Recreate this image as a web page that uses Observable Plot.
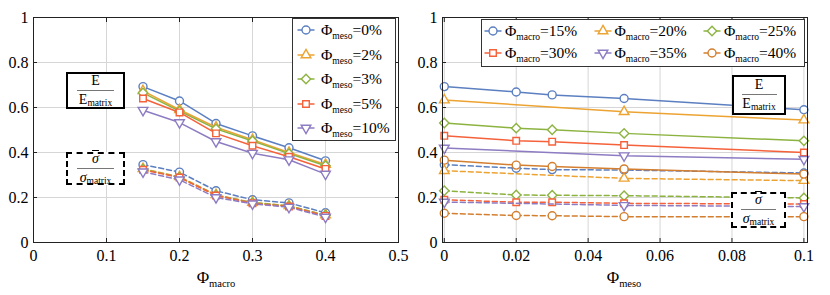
<!DOCTYPE html>
<html>
<head>
<meta charset="utf-8">
<script src="https://cdn.jsdelivr.net/npm/d3@7"></script>
<script src="https://cdn.jsdelivr.net/npm/@observablehq/plot@0.6"></script>
<style>
  html, body { margin: 0; padding: 0; background: #fff; }
  #wrap { position: relative; width: 830px; height: 295px; overflow: hidden; background: #fff;
          font-family: 'Liberation Serif', serif; color: #000; }
  #wrap svg.plot { position: absolute; top: 0; }
  .legend { position: absolute; background: #fff; border: 1px solid #333; box-sizing: border-box; }
  .lrow { position: absolute; height: 20px; display: flex; align-items: center; white-space: nowrap; font-size: 15.5px; font-family: 'Liberation Serif', serif; }
  .sub { font-size: 9.5px; position: relative; top: 4px; }
  .ann { position: absolute; background: #fff; box-sizing: border-box; display: flex; flex-direction: column;
         align-items: center; justify-content: center; font-size: 14px; line-height: 12px; font-family: 'Liberation Serif', serif; }
  .ann .bar { height: 0; border-top: 1px solid #777; margin: 3px 0 3px 0; }
  .ann .sub { top: 2px; font-size: 9.5px; }
  .axlab { position: absolute; font-size: 17px; white-space: nowrap; transform: translateX(-50%); font-family: 'Liberation Serif', serif; }
  .axlab .sub { font-size: 10.5px; top: 4px; }
</style>
</head>
<body>
<div id="wrap"></div>
<script>
// ---------------- DATA ----------------
const colors = ["#5b7fc0", "#eda332", "#8cb340", "#f5613a", "#8e7cc3", "#d47f2f"];

// Left panel: x = Phi_macro, series = Phi_meso
const leftX = [0.15, 0.2, 0.25, 0.3, 0.35, 0.4];
const mesoLabels = ["0%", "2%", "3%", "5%", "10%"];
const E_meso0  = [0.693, 0.629, 0.529, 0.474, 0.421, 0.363];
const E_meso2  = [0.674, 0.590, 0.512, 0.457, 0.400, 0.347];
const E_meso3  = [0.665, 0.584, 0.505, 0.451, 0.395, 0.341];
const E_meso5  = [0.640, 0.578, 0.485, 0.430, 0.381, 0.327];
const E_meso10 = [0.588, 0.533, 0.449, 0.397, 0.368, 0.304];
const S_meso0  = [0.346, 0.313, 0.230, 0.190, 0.176, 0.132];
const S_meso2  = [0.328, 0.292, 0.212, 0.178, 0.163, 0.122];
const S_meso3  = [0.326, 0.290, 0.210, 0.177, 0.162, 0.121];
const S_meso5  = [0.323, 0.289, 0.209, 0.174, 0.160, 0.118];
const S_meso10 = [0.314, 0.279, 0.200, 0.172, 0.157, 0.113];

// Right panel: x = Phi_meso, series = Phi_macro
const macroLabels = ["15%", "20%", "25%", "30%", "35%", "40%"];
const X_macro15 = [0, 0.02, 0.03, 0.05, 0.1];
const X_macro20 = [0, 0.05, 0.1];
const X_macro25 = [0, 0.02, 0.03, 0.05, 0.1];
const X_macro30 = [0, 0.02, 0.03, 0.05, 0.1];
const X_macro35 = [0, 0.05, 0.1];
const X_macro40 = [0, 0.02, 0.03, 0.05, 0.1];
const E_macro15 = [0.693, 0.669, 0.656, 0.640, 0.590];
const E_macro20 = [0.633, 0.581, 0.544];
const E_macro25 = [0.531, 0.508, 0.501, 0.485, 0.452];
const E_macro30 = [0.474, 0.452, 0.448, 0.433, 0.400];
const E_macro35 = [0.420, 0.386, 0.370];
const E_macro40 = [0.366, 0.344, 0.338, 0.327, 0.304];
const S_macro15 = [0.346, 0.330, 0.324, 0.322, 0.309];
const S_macro20 = [0.319, 0.285, 0.275];
const S_macro25 = [0.230, 0.211, 0.210, 0.208, 0.198];
const S_macro30 = [0.190, 0.179, 0.179, 0.174, 0.171];
const S_macro35 = [0.180, 0.165, 0.160];
const S_macro40 = [0.130, 0.120, 0.119, 0.115, 0.115];

// Tick values
const yTicks = [0, 0.2, 0.4, 0.6, 0.8, 1];
const leftXTicks = [0, 0.1, 0.2, 0.3, 0.4, 0.5];
const rightXTicks = [0, 0.02, 0.04, 0.06, 0.08, 0.1];

// ---------------- SYMBOLS ----------------
const sqrt3 = Math.sqrt(3);
const triangleDown = {
  draw(context, size) {
    const y = -Math.sqrt(size / (sqrt3 * 3));
    context.moveTo(0, -y * 2);
    context.lineTo(-sqrt3 * y, y);
    context.lineTo(sqrt3 * y, y);
    context.closePath();
  }
};
const symbols = ["circle", "triangle", "diamond2", "square", triangleDown, "circle"];
const d3Symbols = [d3.symbolCircle, d3.symbolTriangle, d3.symbolDiamond2, d3.symbolSquare, triangleDown, d3.symbolCircle];
const symbolR = [4, 3.6, 4.2, 3.7, 3.6, 4];

// ---------------- BUILD ----------------
const FONT = "'Liberation Serif', serif";
const wrap = document.getElementById("wrap");

function rows(xs, ys) { return xs.map((x, i) => ({x, y: ys[i]})); }

function seriesMarks(series) {
  const marks = [];
  series.forEach((s, i) => {
    const c = colors[i];
    const dS = rows(s.x, s.S), dE = rows(s.x, s.E);
    marks.push(Plot.line(dS, {x: "x", y: "y", stroke: c, strokeWidth: 1.5, strokeDasharray: "5,3"}));
    marks.push(Plot.line(dE, {x: "x", y: "y", stroke: c, strokeWidth: 1.5}));
    marks.push(Plot.dot(dS, {x: "x", y: "y", stroke: c, fill: "white", strokeWidth: 1.4, r: symbolR[i], symbol: symbols[i]}));
    marks.push(Plot.dot(dE, {x: "x", y: "y", stroke: c, fill: "white", strokeWidth: 1.4, r: symbolR[i], symbol: symbols[i]}));
  });
  return marks;
}

function panel({width, marginLeft, marginRight, xDomain, xTicks, series, left}) {
  const fmt = d => String(d);
  const p = Plot.plot({
    width, height: 295,
    marginLeft, marginRight, marginTop: 17, marginBottom: 53,
    x: {domain: xDomain},
    y: {domain: [0, 1]},
    style: {fontFamily: FONT, fontSize: "16px", background: "transparent", overflow: "visible"},
    marks: [
      Plot.gridX(xTicks, {stroke: "#d6d6d6", strokeOpacity: 1, strokeWidth: 1}),
      Plot.gridY(yTicks, {stroke: "#d6d6d6", strokeOpacity: 1, strokeWidth: 1}),
      Plot.axisX({ticks: xTicks, tickSize: 0, tickPadding: 7, tickFormat: fmt, label: null}),
      Plot.axisY({ticks: yTicks, tickSize: 0, tickPadding: 5, tickFormat: fmt, label: null}),
      Plot.axisX({ticks: xTicks, anchor: "bottom", tickSize: -4, tickFormat: () => "", label: null, stroke: "#222"}),
      Plot.axisX({ticks: xTicks, anchor: "top", tickSize: -4, tickFormat: () => "", label: null, stroke: "#222"}),
      Plot.axisY({ticks: yTicks, anchor: "left", tickSize: -4, tickFormat: () => "", label: null, stroke: "#222"}),
      Plot.axisY({ticks: yTicks, anchor: "right", tickSize: -4, tickFormat: () => "", label: null, stroke: "#222"}),
      ...seriesMarks(series),
      Plot.frame({stroke: "#222", strokeWidth: 1})
    ]
  });
  p.classList.add("plot");
  p.style.left = left + "px";
  wrap.appendChild(p);
}

const leftE = [E_meso0, E_meso2, E_meso3, E_meso5, E_meso10];
const leftS = [S_meso0, S_meso2, S_meso3, S_meso5, S_meso10];
const leftSeries = mesoLabels.map((lab, i) => ({x: leftX, E: leftE[i], S: leftS[i]}));

const rightXs = [X_macro15, X_macro20, X_macro25, X_macro30, X_macro35, X_macro40];
const rightE = [E_macro15, E_macro20, E_macro25, E_macro30, E_macro35, E_macro40];
const rightS = [S_macro15, S_macro20, S_macro25, S_macro30, S_macro35, S_macro40];
const rightSeries = macroLabels.map((lab, i) => ({x: rightXs[i], E: rightE[i], S: rightS[i]}));

panel({width: 410, marginLeft: 33, marginRight: 12, xDomain: [0, 0.5], xTicks: leftXTicks, series: leftSeries, left: 0});
panel({width: 420, marginLeft: 32, marginRight: 23, xDomain: [-0.0005, 0.101], xTicks: rightXTicks, series: rightSeries, left: 410});

// ---------------- OVERLAYS ----------------
function markerSVG(i) {
  const path = d3.symbol(d3Symbols[i], Math.PI * symbolR[i] * symbolR[i])();
  return `<svg width="18" height="14" viewBox="-9 -7 18 14" style="overflow:visible">
    <line x1="-8.5" x2="8.5" y1="0" y2="0" stroke="${colors[i]}" stroke-width="1.5"/>
    <path d="${path}" fill="white" stroke="${colors[i]}" stroke-width="1.4"/></svg>`;
}

function addHTML(html) {
  const t = document.createElement("div");
  t.innerHTML = html;
  while (t.firstChild) wrap.appendChild(t.firstChild);
}

// left legend
addHTML(`<div class="legend" style="left:292px;top:18px;width:104px;height:123px"></div>`);
mesoLabels.forEach((lab, i) => {
  const cy = 30 + i * 24.6;
  addHTML(`<div class="lrow" style="left:297px;top:${cy - 10}px">${markerSVG(i)}<span style="margin-left:6px">Φ<span class="sub">meso</span>=${lab}</span></div>`);
});

// right legend
addHTML(`<div class="legend" style="left:481px;top:19px;width:324px;height:48px"></div>`);
macroLabels.forEach((lab, i) => {
  const col = i % 3, row = Math.floor(i / 3);
  const x = 484 + col * 109.5, cy = 30.5 + row * 22;
  addHTML(`<div class="lrow" style="left:${x}px;top:${cy - 10}px">${markerSVG(i)}<span style="margin-left:3px">Φ<span class="sub">macro</span>=${lab}</span></div>`);
});

// annotation boxes
const numE = `<span style="text-decoration:overline">E</span>`;
const denE = `<span>E<span class="sub">matrix</span></span>`;
const numS = `<span style="font-style:italic;text-decoration:overline">σ</span>`;
const denS = `<span><i>σ</i><span class="sub">matrix</span></span>`;
function ann(l, t, w, h, dashed, num, den, barW) {
  addHTML(`<div class="ann" style="left:${l}px;top:${t}px;width:${w}px;height:${h}px;border:2.5px ${dashed ? "dashed" : "solid"} #000">
    <div>${num}</div><div class="bar" style="width:${barW}px"></div><div>${den}</div></div>`);
}
ann(66, 72, 59, 37, false, numE, denE, 37);
ann(66, 152, 59, 33, true, numS, denS, 37);
ann(732, 75, 54, 40, false, numE, denE, 35);
ann(731, 192, 55, 36, true, numS, denS, 35);

// axis labels
addHTML(`<div class="axlab" style="left:216px;top:268px">Φ<span class="sub">macro</span></div>`);
addHTML(`<div class="axlab" style="left:624px;top:268px">Φ<span class="sub">meso</span></div>`);
</script>
</body>
</html>
